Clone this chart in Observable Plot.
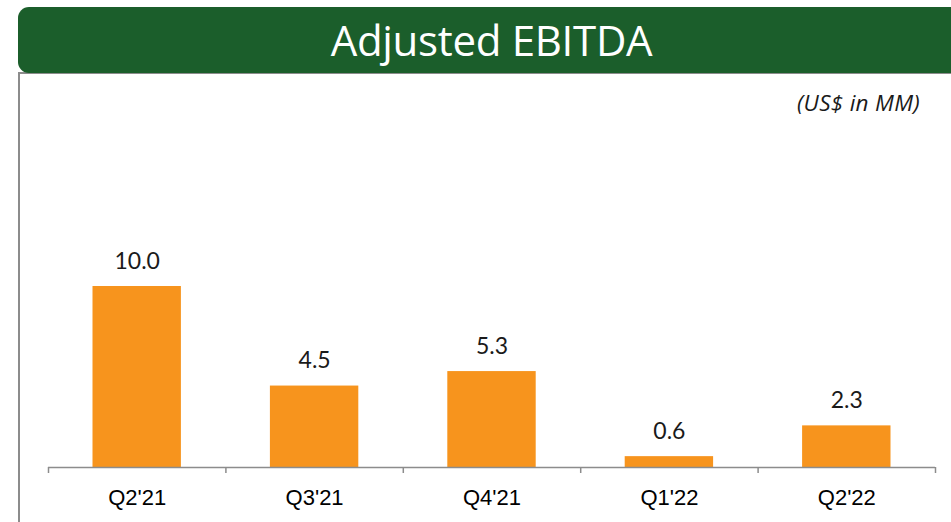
<!DOCTYPE html>
<html>
<head>
<meta charset="utf-8">
<script src="https://cdn.jsdelivr.net/npm/d3@7"></script>
<script src="https://cdn.jsdelivr.net/npm/@observablehq/plot@0.6"></script>
<style>
  html, body { margin: 0; padding: 0; background: #fff; }
  #wrap { position: relative; width: 951px; height: 522px; overflow: hidden; }
  #frame { position: absolute; left: 18px; top: 72px; width: 960px; height: 470px;
           border-left: 2px solid #8c8c8c; border-top: 2px solid #8c8c8c; box-sizing: border-box; }
  #banner { position: absolute; left: 18px; top: 7px; width: 947px; height: 66px;
            background: #1b5e2b; border-radius: 11px; color: #fff;
            font-family: "Open Sans", sans-serif; font-size: 42px; line-height: 66px;
            text-align: center; letter-spacing: -0.3px; }
  #unit { position: absolute; right: 31px; top: 87px; font-family: "Open Sans", sans-serif;
          font-style: italic; font-size: 22.5px; color: #1a1a1a; letter-spacing: 0.3px; }
  #chart { position: absolute; left: 0; top: 0; }
</style>
</head>
<body>
<div id="wrap">
  <div id="frame"></div>
  <div id="banner">Adjusted EBITDA</div>
  <div id="unit">(US$ in MM)</div>
  <div id="chart"></div>
</div>
<script>
const quarters = ["Q2'21", "Q3'21", "Q4'21", "Q1'22", "Q2'22"];
const ebitda = [10.0, 4.5, 5.3, 0.6, 2.3];
const valueLabels = ["10.0", "4.5", "5.3", "0.6", "2.3"];

const data = quarters.map((q, i) => ({ q, i, v: ebitda[i], label: valueLabels[i] }));
const boundaries = d3.range(quarters.length + 1);
const centers = quarters.map((q, i) => i + 0.5);

const chart = Plot.plot({
  width: 951,
  height: 522,
  marginLeft: 48,
  marginRight: 16,
  marginTop: 105,
  marginBottom: 55,
  style: { fontFamily: "'Liberation Sans', Arial, sans-serif", background: "transparent", overflow: "visible" },
  x: { domain: [0, quarters.length], axis: null, label: null },
  y: { domain: [0, 20], axis: null, label: null },
  marks: [
    Plot.rectY(data, { x1: "i", x2: d => d.i + 1, y: "v", fill: "#f7941d", insetLeft: 44.5, insetRight: 44.5 }),
    Plot.ruleY([0], { stroke: "#8c8c8c", strokeWidth: 1.5 }),
    Plot.axisX(boundaries, { tickSize: 6, tickFormat: () => "", label: null, stroke: "#8c8c8c", strokeWidth: 1.5, strokeOpacity: 1 }),
    Plot.axisX(centers, { tickSize: 0, tickPadding: 22, label: null, tickFormat: x => quarters[Math.floor(x)], fontSize: 22, fill: "#000" }),
    Plot.text(data, { x: d => d.i + 0.5, y: "v", text: "label", dy: -18, lineAnchor: "bottom",
      fontSize: 23, fontFamily: "Lato, sans-serif", fill: "#1a1a1a" })
  ]
});
document.getElementById("chart").appendChild(chart);
</script>
</body>
</html>
